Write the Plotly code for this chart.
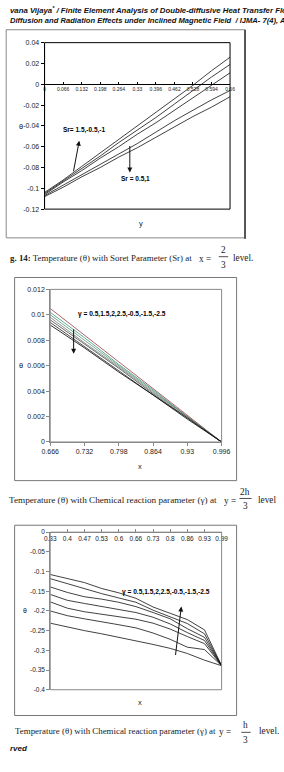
import plotly.graph_objects as go

W, H = 284, 772
def px(x): return x / W
def py(y): return 1 - y / H

# ---------------- data ----------------
# Fig 14: theta vs y for Soret parameter
sr_x = [0, 0.066, 0.132, 0.198, 0.264, 0.33, 0.396, 0.462, 0.528, 0.594, 0.66]
sr_ticktext = ["0", "0.066", "0.132", "0.198", "0.264", "0.33", "0.396", "0.462", "0.528", "0.594", "0.66"]
sr_names = ["Sr=1.5", "Sr=-0.5", "Sr=-1", "Sr=0.5", "Sr=1"]
sr_1 = [-0.104, -0.092, -0.079, -0.066, -0.053, -0.040, -0.027, -0.014, -0.001, 0.013, 0.026]
sr_2 = [-0.105, -0.093, -0.081, -0.069, -0.056, -0.044, -0.032, -0.019, -0.006, 0.007, 0.019]
sr_3 = [-0.106, -0.094, -0.083, -0.071, -0.060, -0.048, -0.037, -0.025, -0.013, -0.001, 0.011]
sr_4 = [-0.107, -0.097, -0.087, -0.077, -0.067, -0.057, -0.046, -0.035, -0.025, -0.015, -0.006]
sr_5 = [-0.108, -0.099, -0.089, -0.080, -0.070, -0.061, -0.051, -0.041, -0.031, -0.022, -0.012]

# Fig 15: theta vs x for chemical reaction parameter at y = 2h/3
g_x = [0.666, 0.732, 0.798, 0.864, 0.93, 0.996]
g_names = ["γ=0.5", "γ=1.5", "γ=2", "γ=2.5", "γ=-0.5", "γ=-1.5", "γ=-2.5"]
g_1 = [0.0105, 0.0084, 0.0063, 0.0042, 0.0021, 0.0]
g_2 = [0.0102, 0.0082, 0.0061, 0.0041, 0.0020, 0.0]
g_3 = [0.0100, 0.0080, 0.0060, 0.0040, 0.0020, 0.0]
g_4 = [0.0098, 0.0078, 0.0059, 0.0039, 0.0020, 0.0]
g_5 = [0.0096, 0.0077, 0.0058, 0.0038, 0.0019, 0.0]
g_6 = [0.0094, 0.0075, 0.0056, 0.0037, 0.0019, 0.0]
g_7 = [0.0092, 0.0074, 0.0055, 0.0037, 0.0018, 0.0]
g_colors = ["#9b3b3b", "#3a8f8f", "#4c9a6a", "#777777", "#444444", "#222222", "#000000"]

# Fig 16: theta vs x for chemical reaction parameter at y = h/3
h_x = [0.33, 0.396, 0.462, 0.528, 0.594, 0.66, 0.726, 0.792, 0.858, 0.924, 0.99]
h_ticktext = ["0.33", "0.4", "0.47", "0.53", "0.6", "0.66", "0.73", "0.8", "0.86", "0.93", "0.99"]
h_1 = [-0.1075, -0.117, -0.128, -0.143, -0.154, -0.168, -0.190, -0.206, -0.222, -0.248, -0.339]
h_2 = [-0.118, -0.131, -0.143, -0.156, -0.167, -0.178, -0.198, -0.214, -0.232, -0.258, -0.339]
h_3 = [-0.139, -0.153, -0.164, -0.170, -0.178, -0.189, -0.204, -0.220, -0.245, -0.267, -0.339]
h_4 = [-0.158, -0.173, -0.181, -0.189, -0.196, -0.204, -0.216, -0.233, -0.255, -0.275, -0.339]
h_5 = [-0.177, -0.193, -0.202, -0.208, -0.214, -0.221, -0.231, -0.246, -0.265, -0.283, -0.339]
h_6 = [-0.200, -0.212, -0.220, -0.227, -0.235, -0.243, -0.256, -0.272, -0.292, -0.298, -0.339]
h_7 = [-0.231, -0.241, -0.250, -0.258, -0.267, -0.275, -0.285, -0.295, -0.308, -0.325, -0.339]

# ---------------- figure ----------------
fig = go.Figure()
for name, ys in zip(sr_names, [sr_1, sr_2, sr_3, sr_4, sr_5]):
    fig.add_trace(go.Scatter(x=sr_x, y=ys, name=name, mode="lines",
                             line=dict(color="#111", width=0.8), xaxis="x", yaxis="y"))
for name, ys, c in zip(g_names, [g_1, g_2, g_3, g_4, g_5, g_6, g_7], g_colors):
    fig.add_trace(go.Scatter(x=g_x, y=ys, name=name, mode="lines",
                             line=dict(color=c, width=0.8), xaxis="x2", yaxis="y2"))
for name, ys in zip(g_names, [h_1, h_2, h_3, h_4, h_5, h_6, h_7]):
    fig.add_trace(go.Scatter(x=h_x, y=ys, name=name, mode="lines",
                             line=dict(color="#111", width=0.8), xaxis="x3", yaxis="y3"))

SANS = "Liberation Sans, Arial, sans-serif"
SERIF = "Liberation Serif, Times New Roman, serif"
tickfont = dict(family=SANS, size=7, color="#222")

# domains
d1x = [px(38), px(236)]; d1y = [py(207), py(39)]
d2x = [px(44), px(227)]; d2y = [py(442), py(288)]
d3x = [px(44), px(227)]; d3y = [py(692), py(533)]

fig.update_layout(
    width=W, height=H, margin=dict(l=0, r=0, t=0, b=0),
    paper_bgcolor="white", plot_bgcolor="white", showlegend=False,
    xaxis=dict(domain=d1x, anchor="free", position=(d1y[0] + 0.75 * (d1y[1] - d1y[0])),
               range=[0, 0.66], tickvals=sr_x, ticktext=sr_ticktext,
               tickfont=dict(family=SANS, size=5, color="#222"), showgrid=False, zeroline=False,
               showline=True, linecolor="#000", linewidth=1.3, ticks="inside", ticklen=2,
               tickcolor="#000"),
    yaxis=dict(domain=d1y, anchor="x", range=[-0.12, 0.04],
               tickvals=[0.04, 0.02, 0, -0.02, -0.04, -0.06, -0.08, -0.1, -0.12],
               ticktext=["0.04", "0.02", "0", "-0.02", "-0.04", "-0.06", "-0.08", "-0.1", "-0.12"],
               tickfont=tickfont, showgrid=False, zeroline=False, showline=True,
               linecolor="#000", linewidth=1, ticks="outside", ticklen=3, tickcolor="#000"),
    xaxis2=dict(domain=d2x, anchor="y2", range=[0.666, 0.996],
                tickvals=g_x, ticktext=["0.666", "0.732", "0.798", "0.864", "0.93", "0.996"],
                tickfont=tickfont, showgrid=False, zeroline=False, showline=True,
                linecolor="#888", linewidth=1, ticks="outside", ticklen=3, tickcolor="#888"),
    yaxis2=dict(domain=d2y, anchor="x2", range=[0, 0.012],
                tickvals=[0, 0.002, 0.004, 0.006, 0.008, 0.01, 0.012],
                ticktext=["0", "0.002", "0.004", "0.006", "0.008", "0.01", "0.012"],
                tickfont=tickfont, showgrid=False, zeroline=False, showline=True,
                linecolor="#888", linewidth=1, ticks="outside", ticklen=3, tickcolor="#888"),
    xaxis3=dict(domain=d3x, anchor="free", position=d3y[1], side="bottom",
                range=[0.33, 0.99], tickvals=h_x, ticktext=h_ticktext,
                tickfont=dict(family=SANS, size=6.5, color="#222"), showgrid=False, zeroline=False,
                showline=True, linecolor="#888", linewidth=1, ticks="inside", ticklen=3,
                tickcolor="#888"),
    yaxis3=dict(domain=d3y, anchor="x3", range=[-0.4, 0],
                tickvals=[0, -0.05, -0.1, -0.15, -0.2, -0.25, -0.3, -0.35, -0.4],
                ticktext=["0", "-0.05", "-0.1", "-0.15", "-0.2", "-0.25", "-0.3", "-0.35", "-0.4"],
                tickfont=dict(family=SANS, size=6.5, color="#222"), showgrid=False, zeroline=False,
                showline=True, linecolor="#888", linewidth=1, ticks="outside", ticklen=3,
                tickcolor="#888"),
)

shapes = []
# outer frames
shapes.append(dict(type="rect", xref="paper", yref="paper", x0=px(-3), x1=px(252),
                   y0=py(236), y1=py(26), line=dict(color="#888", width=1)))
shapes.append(dict(type="line", xref="paper", yref="paper", x0=px(252), x1=px(252),
                   y0=py(237), y1=py(26), line=dict(color="#555", width=2)))
for top, bot in [(276, 481), (526, 718)]:
    shapes.append(dict(type="rect", xref="paper", yref="paper", x0=px(6), x1=px(243),
                       y0=py(bot), y1=py(top), line=dict(color="#777", width=1)))
# plot area boxes
shapes.append(dict(type="rect", xref="x domain", yref="y domain", x0=0, x1=1, y0=0, y1=1,
                   line=dict(color="#000", width=1)))
shapes.append(dict(type="rect", xref="x2 domain", yref="y2 domain", x0=0, x1=1, y0=0, y1=1,
                   line=dict(color="#888", width=1)))
shapes.append(dict(type="rect", xref="x3 domain", yref="y3 domain", x0=0, x1=1, y0=0, y1=1,
                   line=dict(color="#888", width=1)))
# fraction bars in captions
for x0, x1, y in [(224, 234, 255), (246, 259, 499), (248, 258, 735)]:
    shapes.append(dict(type="line", xref="paper", yref="paper", x0=px(x0), x1=px(x1),
                       y0=py(y), y1=py(y), line=dict(color="#222", width=0.8)))
fig.update_layout(shapes=shapes)

ann = []
def text(x, y, t, size, family=SANS, xanchor="left", color="#222"):
    ann.append(dict(x=px(x), y=py(y), xref="paper", yref="paper", text=t, showarrow=False,
                    xanchor=xanchor, yanchor="middle", font=dict(family=family, size=size, color=color)))

def arrow(hx, hy, tx, ty):
    ann.append(dict(x=px(hx), y=py(hy), xref="paper", yref="paper", text="", showarrow=True,
                    ax=tx - hx, ay=ty - hy, arrowhead=2, arrowsize=1, arrowwidth=1,
                    arrowcolor="#111"))

# header
HDR = "Liberation Sans, Arial, sans-serif"
text(-1, 6, "<b><i>vana Vijaya<sup>*</sup> / Finite Element Analysis of Double-diffusive Heat Transfer Flow</i></b>", 7.8, HDR, color="#111")
text(-1, 17, "<b><i>Diffusion and Radiation Effects under Inclined Magnetic Field  / IJMA- 7(4), Ap</i></b>", 7.6, HDR, color="#111")

# chart 1
text(9, 124, "θ", 7.5)
text(137, 222, "y", 7.5)
text(55, 127, "<b>Sr= 1.5,-0.5,-1</b>", 6.5, color="#000")
text(117, 177, "<b>Sr = 0.5,1</b>", 6.5, color="#000")
arrow(75, 138, 69, 170)
arrow(129, 170, 129, 142)
# caption 1
text(-1, 256, "<b>g. 14:</b> Temperature (θ) with Soret Parameter (Sr) at", 8.9, SERIF)
text(201, 257, "x =", 9.3, SERIF)
text(229, 248, "2", 9.3, SERIF, xanchor="center")
text(229, 263, "3", 9.3, SERIF, xanchor="center")
text(237, 256, "level.", 9.3, SERIF)

# chart 2
text(9, 365, "θ", 7.5)
text(136, 467, "x", 7.5)
text(72, 313, "<b>γ = 0.5,1.5,2,2.5,-0.5,-1.5,-2.5</b>", 6.6, color="#000")
arrow(69, 353, 69, 327)
# caption 2
text(-2, 501, "Temperature (θ) with Chemical reaction parameter (γ) at", 9.2, SERIF)
text(227, 502, "y =", 9.3, SERIF)
text(252, 492, "2h", 9.3, SERIF, xanchor="center")
text(252, 507, "3", 9.3, SERIF, xanchor="center")
text(264, 501, "level", 9.3, SERIF)

# chart 3
text(13, 612, "θ", 7)
text(136, 705, "x", 7.5)
text(118, 593, "<b>γ = 0.5,1.5,2,2.5,-0.5,-1.5,-2.5</b>", 6.6, color="#000")
arrow(184, 608, 178, 658)
# caption 3
text(4, 734, "Temperature (θ) with Chemical reaction parameter (γ) at", 8.9, SERIF)
text(222, 735, "y =", 9.3, SERIF)
text(253, 728, "h", 9.3, SERIF, xanchor="center")
text(253, 743, "3", 9.3, SERIF, xanchor="center")
text(265, 734, "level.", 9.3, SERIF)
text(-1, 751, "<b><i>rved</i></b>", 8, HDR, color="#111")

fig.update_layout(annotations=ann)
fig.write_html("out.html")
